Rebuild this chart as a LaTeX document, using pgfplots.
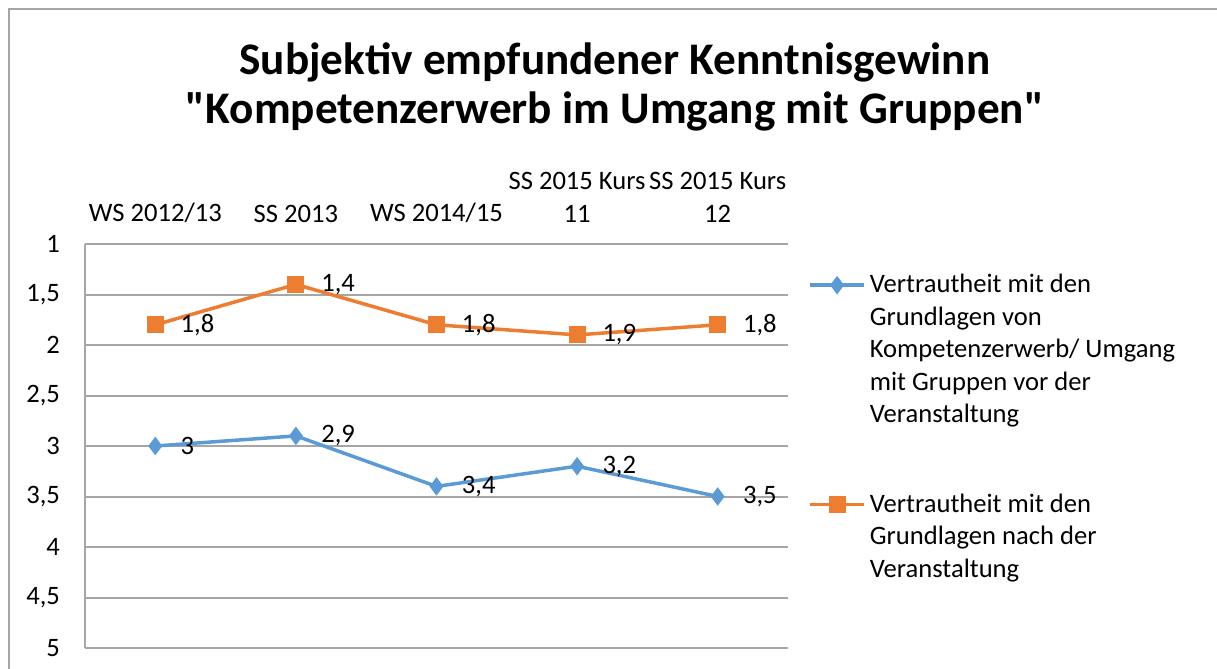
\documentclass[border=0pt]{standalone}
\usepackage{pgfplots}
\pgfplotsset{compat=1.18}
\usepackage{fontspec}
\setmainfont{Carlito}[Ligatures=TeXOff]
\definecolor{sblue}{HTML}{5B9BD5}
\definecolor{sorange}{HTML}{ED7D31}
\definecolor{gridgray}{HTML}{A6A6A6}
\pgfplotsset{
  legimgA/.style={legend image code/.code={\draw[mark repeat=2,mark phase=2,##1] plot coordinates {(0pt,32.5pt)(13.5pt,32.5pt)(27pt,32.5pt)};}},
  legimgB/.style={legend image code/.code={\draw[mark repeat=2,mark phase=2,##1] plot coordinates {(0pt,16.25pt)(13.5pt,16.25pt)(27pt,16.25pt)};}},
}
\begin{document}
\begin{tikzpicture}
\useasboundingbox (0,0) rectangle (608.5pt,334.5pt);
\draw[gridgray, line width=1pt] (4.5pt,0) -- (4.5pt,330pt) -- (608.5pt,330pt);
\node[font=\fontsize{22.6}{24.5}\selectfont\bfseries, align=center] at (307.5pt,291pt)
  {Subjektiv empfundener Kenntnisgewinn\\"Kompetenzerwerb im Umgang mit Gruppen"};
\begin{axis}[
  at={(42.5pt,10.5pt)}, anchor=south west,
  scale only axis, width=351.5pt, height=202pt,
  xmin=-0.5, xmax=4.5, ymin=1, ymax=5, y dir=reverse,
  xtick={0,1,2,3,4},
  xticklabels={WS 2012/13, SS 2013, WS 2014/15, {SS 2015 Kurs\\11}, {SS 2015 Kurs\\12}},
  xticklabel pos=upper,
  xticklabel style={align=center, anchor=south, yshift=7pt, font=\fontsize{13.3}{16.8}\selectfont},
  ytick={1,1.5,...,5},
  yticklabel style={xshift=-9pt, font=\fontsize{13.3}{16}\selectfont},
  /pgf/number format/use comma,
  /pgf/number format/assume math mode=true,
  major tick length=0pt,
  axis line style={draw=none},
  ymajorgrids,
  major grid style={gridgray, line width=1pt},
  extra x ticks={-0.5},
  extra x tick labels={},
  extra x tick style={grid=major, major grid style={gridgray, line width=1pt}},
  nodes near coords,
  nodes near coords style={anchor=west, xshift=8.5pt, font=\fontsize{13.3}{16}\selectfont, text=black},
  clip=false,
  legend style={at={(axis description cs:1.0284,0.9356)}, anchor=north west, draw=none, fill=none,
    font=\fontsize{13.3}{16.25}\selectfont, cells={anchor=west, align=left}, row sep=30pt,
    inner sep=0pt},
]
\addplot[sblue, line width=1.75pt, mark=diamond*, mark size=3.2pt, legimgA]
  coordinates {(0,3) (1,2.9) (2,3.4) (3,3.2) (4,3.5)};
\addlegendentry{Vertrautheit mit den\\Grundlagen von\\Kompetenzerwerb/ Umgang\\mit Gruppen vor der\\Veranstaltung}
\addplot[sorange, line width=1.75pt, mark=square*, mark size=3.4pt, legimgB]
  coordinates {(0,1.8) (1,1.4) (2,1.8) (3,1.9) (4,1.8)};
\addlegendentry{Vertrautheit mit den\\Grundlagen nach der\\Veranstaltung}
\end{axis}
\end{tikzpicture}
\end{document}
